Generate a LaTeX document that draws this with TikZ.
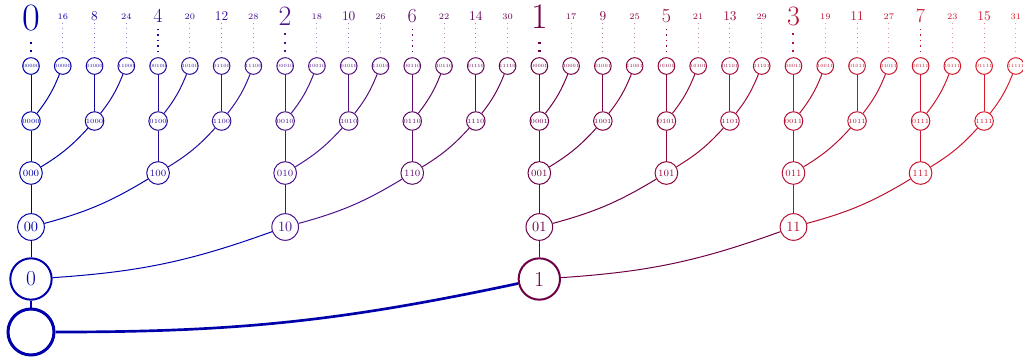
\documentclass[tikz,border=0pt]{standalone}
\usepackage{amsmath}
\usepackage{amssymb}
\usepackage{tikz}

% colours along the row of leaves, one every 8 places
\definecolor{tone0}{RGB}{0,0,170}
\definecolor{tone8}{RGB}{75,20,140}
\definecolor{tone16}{RGB}{110,0,70}
\definecolor{tone24}{RGB}{180,15,50}
\definecolor{tone32}{RGB}{225,30,40}

\newcommand{\pickcolor}[1]{%
	\pgfmathtruncatemacro{\tonelo}{8*floor(#1/8)}%
	\pgfmathtruncatemacro{\tonehi}{\tonelo+8}%
	\pgfmathsetmacro{\mixpc}{100*(#1-\tonelo)/8}%
	\colorlet{tc}{tone\tonehi!\mixpc!tone\tonelo}}

\tikzset{
	bit/.style={circle,draw=tc,text=tc,inner sep=0pt,line width=0.75pt},
	bit5/.style={bit,minimum size=11.25pt,font=\fontsize{3.6}{4}\selectfont},
	bit4/.style={bit,minimum size=13.9pt,font=\fontsize{4.75}{5}\selectfont},
	bit3/.style={bit,minimum size=17pt,font=\fontsize{7.2}{8}\selectfont},
	bit2/.style={bit,minimum size=20pt,font=\fontsize{10.7}{12}\selectfont},
	bit1/.style={bit,minimum size=31pt,line width=1.5pt,font=\fontsize{16}{18}\selectfont},
	link/.style={draw=tc,line width=0.75pt},
	number/.style={text=tc,inner sep=0pt,font=\fontsize{#1}{#1}\selectfont},
	dots/.style 2 args={draw=tc,line width=#1pt,dash pattern=on #1pt off #2pt},
}

\begin{document}
\begin{tikzpicture}[x=0.75pt,y=0.75pt]
	\useasboundingbox (0,0) rectangle (1023,362);
	% leaves and the numbers above them
	\foreach \k/\s/\n in {0/00000/0,1/10000/16,2/01000/8,3/11000/24,4/00100/4,5/10100/20,6/01100/12,7/11100/28,
		8/00010/2,9/10010/18,10/01010/10,11/11010/26,12/00110/6,13/10110/22,14/01110/14,15/11110/30,
		16/00001/1,17/10001/17,18/01001/9,19/11001/25,20/00101/5,21/10101/21,22/01101/13,23/11101/29,
		24/00011/3,25/10011/19,26/01011/11,27/11011/27,28/00111/7,29/10111/23,30/01111/15,31/11111/31}{
		\pickcolor{\k}
		\pgfmathtruncatemacro{\rk}{floor(ln(\n+0.7)/ln(2))+1}
		\pgfmathsetmacro{\fs}{{29,27,21,15,10,6.4}[\rk]}
		\pgfmathsetmacro{\vy}{{343.5,345.7,345.7,345.7,345.7,345.7}[\rk]}
		\pgfmathsetmacro{\dw}{{2,2,1.5,1.1,0.75,0.75}[\rk]}
		\pgfmathsetmacro{\dg}{{4,4,5,3,2.75,2.75}[\rk]}
		\pgfmathsetmacro{\dl}{{10,10,19,27,29,29}[\rk]}
		\pgfmathsetmacro{\dop}{{1,1,1,1,0.55,0.45}[\rk]}
		\node[bit5] (b\s) at ({31+31.77*\k},296) {\s};
		\node[number=\fs] (v\n) at ({31+31.77*\k},\vy) {\n};
		\draw[dots={\dw}{\dg},draw opacity=\dop] ([yshift=3.75pt]b\s.north) -- ++(0,\dl);
	}
	% four bits
	\foreach \k/\s in {0/0000,2/1000,4/0100,6/1100,8/0010,10/1010,12/0110,14/1110,
		16/0001,18/1001,20/0101,22/1101,24/0011,26/1011,28/0111,30/1111}{
		\pickcolor{\k}
		\node[bit4] (b\s) at ({31+31.77*\k},241) {\s};
		\draw[link] (b\s) -- (b0\s);
		\draw[link] (b\s) to[bend right=8] (b1\s);
	}
	% three bits
	\foreach \k/\s in {0/000,4/100,8/010,12/110,16/001,20/101,24/011,28/111}{
		\pickcolor{\k}
		\node[bit3] (b\s) at ({31+31.77*\k},189) {\s};
		\draw[link] (b\s) -- (b0\s);
		\draw[link] (b\s) to[bend right=8] (b1\s);
	}
	% two bits
	\foreach \k/\s in {0/00,8/10,16/01,24/11}{
		\pickcolor{\k}
		\node[bit2] (b\s) at ({31+31.77*\k},135) {\s};
		\draw[link] (b\s) -- (b0\s);
		\draw[link] (b\s) to[bend right=8] (b1\s);
	}
	% one bit
	\foreach \k/\s in {0/0,16/1}{
		\pickcolor{\k}
		\node[bit1] (b\s) at ({31+31.77*\k},83) {\s};
		\draw[link] (b\s) -- (b0\s);
		\draw[link] (b\s) to[bend right=8] (b1\s);
	}
	% root
	\pickcolor{0}
	\node[bit,minimum size=34.5pt,line width=2.25pt] (root) at (31,30) {};
	\draw[link,line width=1.6pt] (root) -- (b0);
	\draw[link,line width=2pt] (root) to[bend right=6] (b1);
\end{tikzpicture}
\end{document}
